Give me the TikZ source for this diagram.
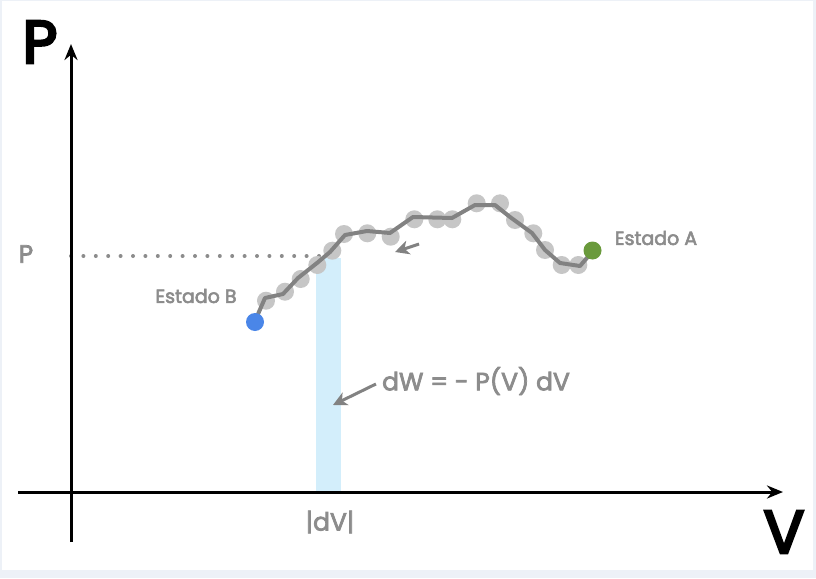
\documentclass[tikz,border=0pt]{standalone}
\usepackage{fontspec}
\setmainfont{Poppins}
\newfontfamily\pmed{Poppins}[FakeBold=3]
\newfontfamily\pbig{Poppins}[FakeBold=4.5]
\usetikzlibrary{arrows.meta}
\definecolor{txtgray}{HTML}{8C8C8C}
\definecolor{linegray}{HTML}{828282}
\definecolor{dotgray}{HTML}{C6C6C6}
\definecolor{barblue}{HTML}{D3EEFB}
\definecolor{bblue}{HTML}{4A86E8}
\definecolor{agreen}{HTML}{6A9A3C}
\definecolor{bgedge}{HTML}{EDF1F7}
\tikzset{
  axis/.style={line width=3pt, -{Stealth[length=16pt,width=13pt]}},
  lbl/.style={text=txtgray, font=\pmed\fontsize{19}{22}\selectfont, inner sep=0pt},
  big/.style={text=black, font=\pmed\fontsize{25}{30}\selectfont, inner sep=0pt},
  huge/.style={text=black, font=\pbig\fontsize{60}{66}\selectfont, inner sep=0pt},
  bead/.style={circle, fill=dotgray, minimum size=18pt, inner sep=0pt},
  gar/.style={line width=3pt, draw=linegray, -{Stealth[length=14pt,width=14pt,inset=4pt]}},
}
\begin{document}
\begin{tikzpicture}[x=1pt,y=-1pt]
\useasboundingbox (0,0) rectangle (816,578);
\fill[bgedge] (0,0) rectangle (816,578);
\fill[white] (2,1) rectangle (813,570);
% blue bar
\fill[barblue] (316,258) rectangle (341,492);
% dotted line
\coordinate (d0) at (71,256);
\coordinate (d1) at (322,256);
\draw[txtgray, line width=4pt, line cap=round, dash pattern=on 0pt off 12.4pt] (d0) -- (d1);
% axes
\coordinate (o1) at (71,542);
\coordinate (o2) at (71,44);
\coordinate (h1) at (18,492);
\coordinate (h2) at (783,492);
\draw[axis] (o1) -- (o2);
\draw[axis] (h1) -- (h2);
\node[huge] (Plab) at (40,42) {P};
\node[huge] (Vlab) at (784,532) {V};
\node[big, text=txtgray] (plab) at (26,254) {P};
% beads
\foreach \p in {(266,300.7),(285,291.7),(300.7,279),(317.3,265),(332.3,250.7),(344,234),(367.3,233.3),(390.7,236.7),(414.3,219.3),(437.3,219.3),(452.3,219.3),(476.7,203.3),(500,203.3),(515,220),(533.3,233.3),(545,250),(561.7,265),(578.3,265)}
  \node[bead] at \p {};
% curve
\draw[linegray, line width=4pt, line join=round] (255,321) -- (265,298) -- (283,294) -- (298,278) -- (317,263) -- (330,252) -- (345,235) -- (367,231) -- (390,233) -- (413,217) -- (452,218) -- (475,205) -- (495,205) -- (510,217) -- (532,233) -- (545,250) -- (560,263) -- (580,266) -- (592,252);
\node[circle, fill=bblue, minimum size=18pt, inner sep=0pt] (B) at (255,322) {};
\node[circle, fill=agreen, minimum size=18pt, inner sep=0pt] (A) at (592.5,250.5) {};
% direction arrow
\coordinate (a1) at (419,244);
\coordinate (a2) at (395,252);
\draw[gar] (a1) -- (a2);
% labels
\node[lbl] (EB) at (196,296) {Estado B};
\node[lbl] (EA) at (656,238) {Estado A};
\node[big, text=txtgray] (dW) at (476,381) {dW = - P(V) dV};
\node[big, text=txtgray] (dV) at (330,522) {|dV|};
\coordinate (w2) at (333,405);
\draw[gar] (dW.west) ++(-6,3) -- (w2);
\end{tikzpicture}
\end{document}
